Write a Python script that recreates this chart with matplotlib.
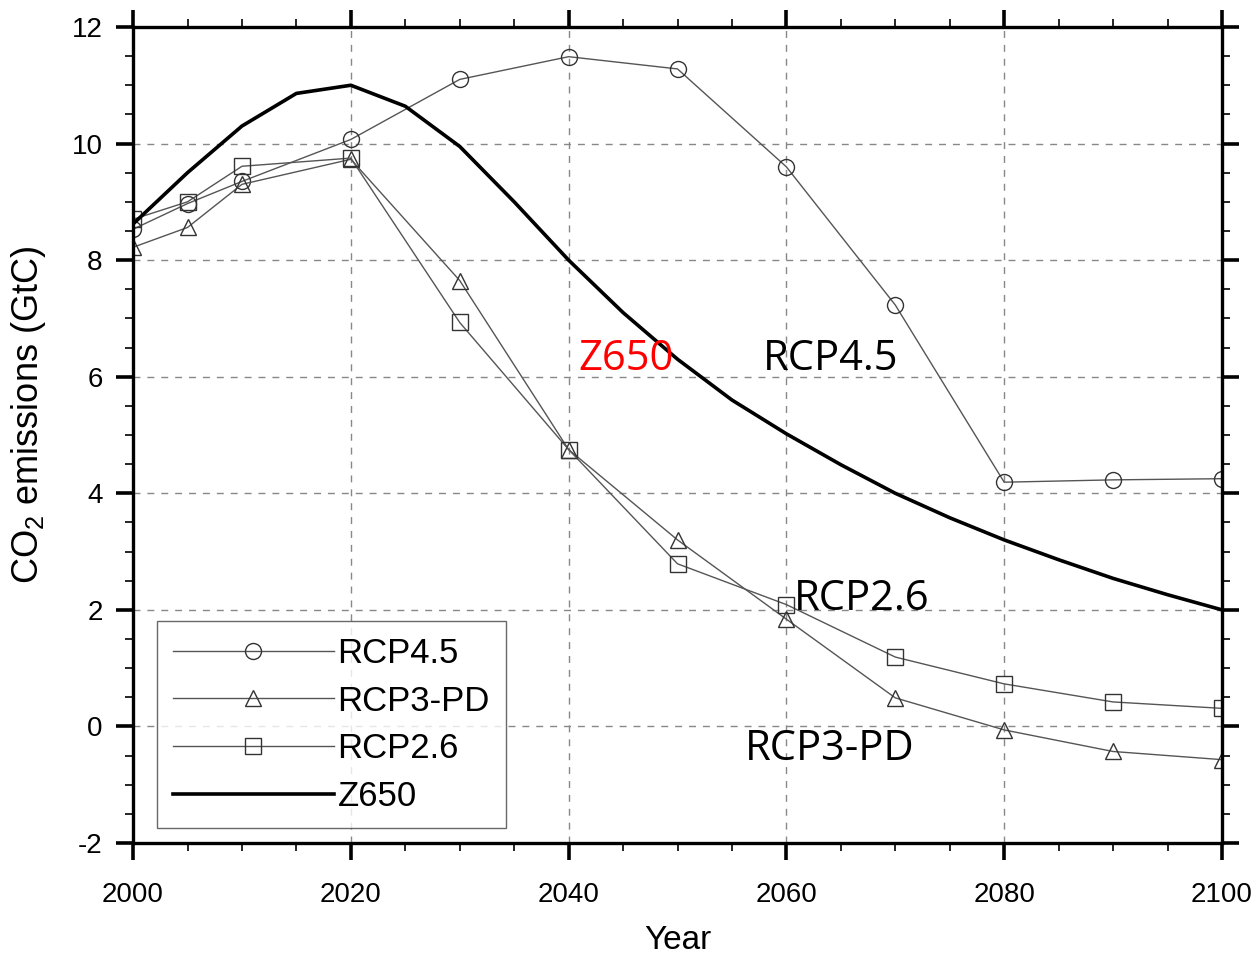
import numpy as np
import matplotlib
matplotlib.use('Agg')
import matplotlib.pyplot as plt
from matplotlib.ticker import MultipleLocator

plt.rcParams['font.family'] = ['Liberation Sans', 'DejaVu Sans']
plt.rcParams['mathtext.default'] = 'regular'
plt.rcParams['axes.unicode_minus'] = False

# scenario years and emissions (GtC)
rcp_years = [2000, 2005, 2010, 2020, 2030, 2040, 2050, 2060, 2070, 2080, 2090, 2100]
rcp45 = [8.53, 8.97, 9.35, 10.07, 11.1, 11.49, 11.28, 9.6, 7.23, 4.19, 4.23, 4.25]
rcp3pd = [8.22, 8.56, 9.3, 9.73, 7.65, 4.75, 3.2, 1.84, 0.49, -0.06, -0.43, -0.57]
rcp26 = [8.7, 9.0, 9.61, 9.75, 6.93, 4.75, 2.79, 2.09, 1.19, 0.73, 0.42, 0.31]

z650_years = list(range(2000, 2101, 5))
z650 = [8.62, 9.5, 10.3, 10.86, 11.0, 10.64, 9.95, 9.0, 8.0, 7.1, 6.3,
        5.6, 5.02, 4.49, 4.0, 3.58, 3.2, 2.86, 2.54, 2.26, 2.0]

fig = plt.figure(figsize=(12.6, 9.56), dpi=100)
ax = fig.add_axes([0.1056, 0.1182, 0.8642, 0.8536])

thin = dict(color='#555555', lw=1.0, markersize=11.5, markerfacecolor='none',
            markeredgecolor='#333333', markeredgewidth=1.0)
ax.plot(rcp_years, rcp45, marker='o', label='RCP4.5', **thin)
ax.plot(rcp_years, rcp3pd, marker='^', label='RCP3-PD', **thin)
ax.plot(rcp_years, rcp26, marker='s', label='RCP2.6', **thin)
ax.plot(z650_years, z650, color='black', lw=2.6, label='Z650')

ax.set_xlim(2000, 2100)
ax.set_ylim(-2, 12)
ax.xaxis.set_major_locator(MultipleLocator(20))
ax.xaxis.set_minor_locator(MultipleLocator(5))
ax.yaxis.set_major_locator(MultipleLocator(2))
ax.yaxis.set_minor_locator(MultipleLocator(0.5))

ax.grid(True, which='major', color='#888888', lw=1.0, linestyle=(0, (5, 5)))
for s in ax.spines.values():
    s.set_linewidth(2.4)

ax.tick_params(which='major', direction='out', length=12, width=2.6,
               top=True, right=True, labelsize=20, pad=10)
ax.tick_params(which='minor', direction='out', length=6, width=1.2,
               top=True, right=True)
ax.tick_params(axis='x', which='major', pad=16)

ax.set_xlabel('Year', fontsize=24, labelpad=12)
ax.set_ylabel('CO$_2$ emissions (GtC)', fontsize=26)
ax.yaxis.set_label_coords(-0.078, 0.5245)

leg = ax.legend(loc='lower left', bbox_to_anchor=(0.022, 0.018), borderaxespad=0,
                fontsize=25, frameon=True, fancybox=False, handlelength=4.65,
                handletextpad=0.1, labelspacing=0.42, borderpad=0.45, numpoints=1)
leg.get_frame().set_edgecolor('#444444')
leg.get_frame().set_linewidth(1.0)

ann = dict(fontsize=30, family=['Open Sans', 'DejaVu Sans'], ha='center', va='center')
ax.text(2045.3, 6.31, 'Z650', color='red', **ann)
ax.text(2064.1, 6.31, 'RCP4.5', color='black', **ann)
ax.text(2066.9, 2.19, 'RCP2.6', color='black', **ann)
ax.text(2064.0, -0.39, 'RCP3-PD', color='black', **ann)

fig.savefig('out.png', dpi=100)
